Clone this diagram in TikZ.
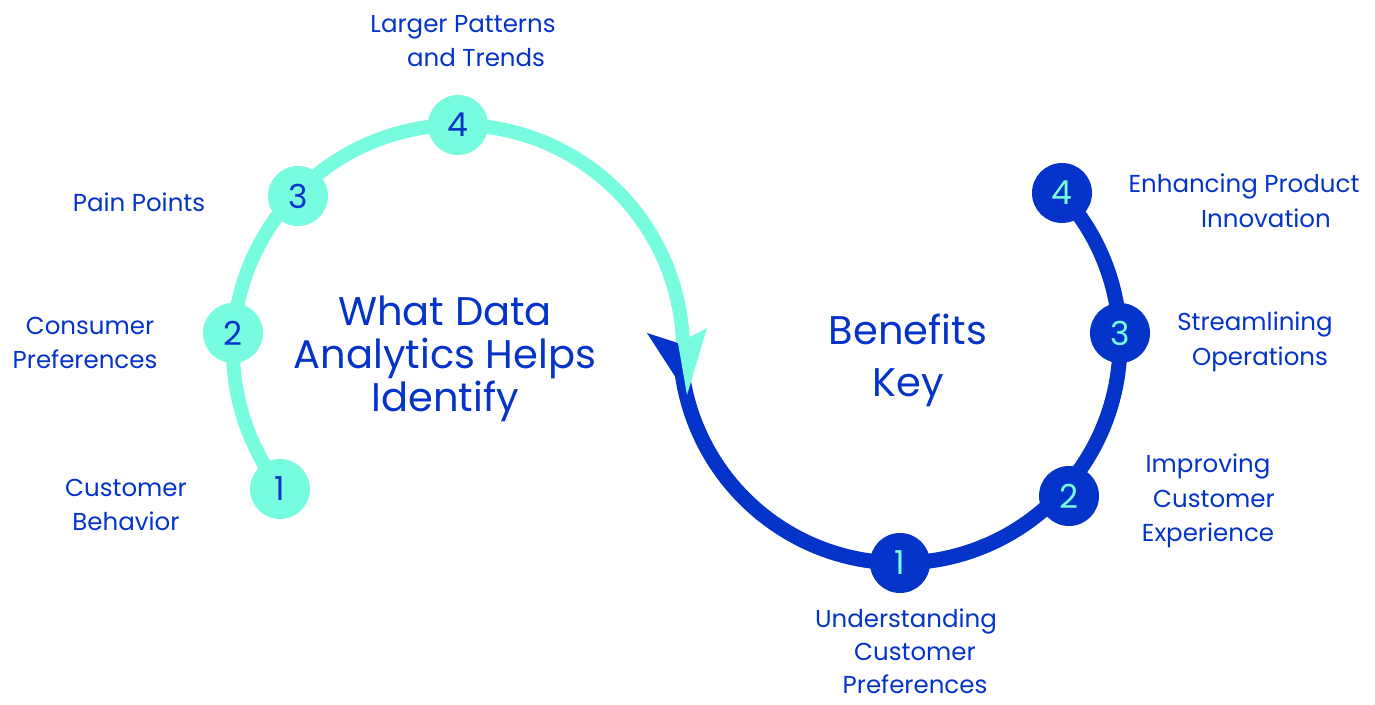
\documentclass[tikz,border=0pt]{standalone}
\usepackage{fontspec}
\setmainfont{Poppins}
\definecolor{tealc}{HTML}{78FCDF}
\definecolor{bluec}{HTML}{0333C8}
\begin{document}
\begin{tikzpicture}[x=1pt,y=-1pt,
  tdot/.style={circle,fill=tealc,minimum size=60pt,inner sep=0pt,text=bluec,font=\fontsize{33}{33}\selectfont},
  bdot/.style={circle,fill=bluec,minimum size=60pt,inner sep=0pt,text=tealc,font=\fontsize{33}{33}\selectfont},
  lbl/.style={text=bluec,align=center,inner sep=0pt,font=\fontsize{24.5}{34.5}\selectfont},
  ttl/.style={text=bluec,align=center,inner sep=0pt,font=\fontsize{40}{43}\selectfont}]
\useasboundingbox (0,0) rectangle (1375,704);
% arcs
\draw[tealc,line width=14pt] plot[domain=142:358,samples=120] ({458+225*cos(\x)},{350+225*sin(\x)});
\draw[bluec,line width=15pt] plot[domain=-43:179.5,samples=120] ({900+220*cos(\x)},{343+220*sin(\x)});
% arrowhead split in two halves
\coordinate (al) at (647,333);
\coordinate (an) at (678,343);
\coordinate (ar) at (707,328);
\coordinate (at) at (687,395);
\fill[bluec] (al) -- (an) -- (at) -- cycle;
\fill[tealc] (an) -- (ar) -- (at) -- cycle;
% teal dots
\node[tdot] (t1) at (280,489) {1};
\node[tdot] (t2) at (233,333) {2};
\node[tdot] (t3) at (298,196) {3};
\node[tdot] (t4) at (458,125) {4};
% blue dots
\node[bdot] (b1) at (900,563) {1};
\node[bdot] (b2) at (1069,496) {2};
\node[bdot] (b3) at (1120,333) {3};
\node[bdot] (b4) at (1062,193) {4};
% labels
\node[lbl] (l4) at (463,41) {Larger Patterns\\\hspace*{26pt}and Trends};
\node[lbl] (l3) at (139,202) {Pain Points};
\node[lbl] (l2) at (85,343) {\hspace*{10pt}Consumer\\Preferences};
\node[lbl] (l1) at (126,505) {Customer\\Behavior};
\node[ttl] (title) at (445,359) {What Data\\Analytics Helps\\Identify};
\node[text=bluec,align=center,inner sep=0pt,font=\fontsize{40}{52}\selectfont] (key) at (908,360) {Benefits\\Key};
\node[lbl] (r4) at (1244,201) {Enhancing Product\\\hspace*{44pt}Innovation};
\node[lbl] (r3) at (1255,342) {Streamlining\\\hspace*{10pt}Operations};
\node[lbl] (r2) at (1208,501) {Improving\\\hspace*{12pt}Customer\\Experience};
\node[lbl,font=\fontsize{24.5}{33}\selectfont] (r1) at (906,651) {Understanding\\\hspace*{18pt}Customer\\\hspace*{18pt}Preferences};
\end{tikzpicture}
\end{document}
